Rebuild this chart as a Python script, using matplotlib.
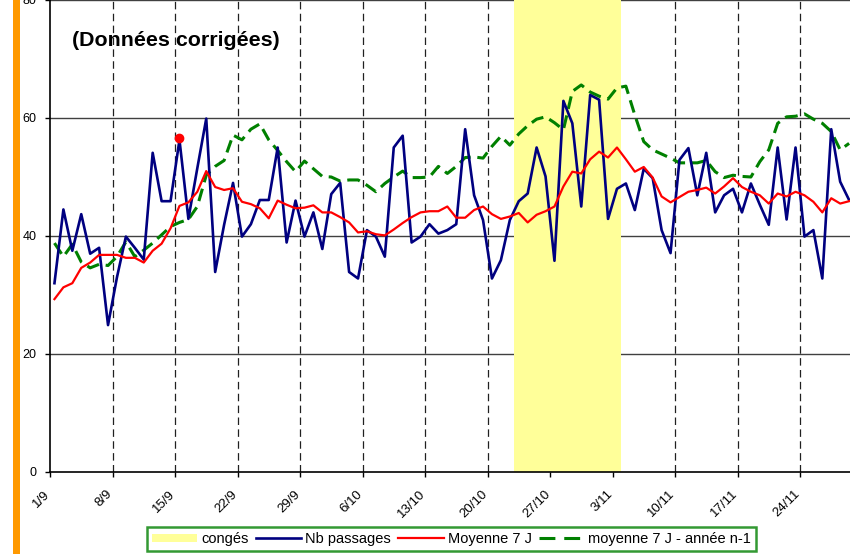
import matplotlib
matplotlib.use('Agg')
import matplotlib.pyplot as plt
import matplotlib.transforms as mtransforms
from matplotlib.patches import Patch, Rectangle
from matplotlib.lines import Line2D

plt.rcParams['font.family'] = ['Liberation Sans', 'DejaVu Sans']

# jours depuis le 1/9 (0 = 1/9)
semaines = [0, 7, 14, 21, 28, 35, 42, 49, 56, 63, 70, 77, 84]
semaines_lab = ['1/9', '8/9', '15/9', '22/9', '29/9', '6/10', '13/10', '20/10',
                '27/10', '3/11', '10/11', '17/11', '24/11']

nb_passages = [32.0, 44.5, 37.5, 43.7, 37.0, 38.0, 24.9, 33.0, 39.9, 38.0,
               36.0, 54.1, 45.9, 45.9, 56.3, 42.9, 51.5, 59.9, 33.9, 41.9,
               49.0, 39.9, 42.0, 46.1, 46.1, 55.0, 38.9, 46.0, 39.9, 44.0,
               37.8, 47.1, 49.0, 33.9, 32.8, 41.0, 39.9, 36.5, 55.0, 57.0,
               38.9, 39.9, 42.0, 40.4, 41.0, 42.0, 58.1, 46.9, 42.7, 32.8,
               35.9, 42.7, 45.9, 47.2, 55.0, 50.1, 35.8, 62.9, 59.1, 45.0,
               63.9, 63.1, 42.9, 48.0, 48.9, 44.4, 51.4, 49.8, 41.0, 37.1,
               52.9, 54.9, 46.9, 54.1, 44.0, 46.9, 48.0, 44.0, 48.9, 45.3,
               41.9, 55.0, 42.8, 55.0, 39.9, 41.0, 32.8, 58.1, 49.2, 46.1]

moy7 = [29.3, 31.3, 32.0, 34.6, 35.5, 36.8, 36.8, 36.8, 36.3, 36.3,
        35.5, 37.5, 38.7, 41.3, 45.1, 45.7, 47.5, 51.0, 48.3, 47.8,
        48.1, 45.8, 45.4, 44.7, 43.0, 46.0, 45.3, 44.7, 44.8, 45.2,
        44.0, 44.0, 43.2, 42.3, 40.6, 40.8, 40.3, 40.1, 41.1, 42.2,
        43.2, 44.0, 44.2, 44.2, 45.0, 43.1, 43.1, 44.4, 45.0, 43.7,
        42.9, 43.3, 43.9, 42.3, 43.6, 44.2, 45.0, 48.4, 50.9, 50.6,
        53.0, 54.3, 53.3, 55.0, 53.0, 50.9, 51.7, 49.9, 46.7, 45.7,
        46.6, 47.5, 47.8, 48.2, 47.2, 48.4, 49.8, 48.3, 47.5, 46.9,
        45.5, 47.2, 46.7, 47.5, 46.9, 45.8, 44.0, 46.4, 45.5, 45.9]

moy7_n1 = [38.8, 36.5, 38.6, 35.6, 34.6, 35.2, 35.0, 36.5, 39.0, 36.5,
           37.6, 38.8, 40.2, 41.6, 42.3, 42.8, 45.0, 50.3, 51.8, 52.8,
           57.1, 56.3, 58.1, 59.0, 56.3, 54.5, 52.6, 50.9, 52.7, 51.4,
           50.1, 50.0, 49.3, 49.5, 49.5, 48.6, 47.5, 48.9, 50.0, 51.0,
           49.9, 49.9, 50.0, 51.8, 50.6, 51.8, 53.3, 53.4, 53.2, 55.2,
           56.9, 55.4, 57.3, 58.7, 59.8, 60.2, 59.2, 58.0, 64.5, 65.6,
           64.4, 63.7, 63.2, 65.1, 65.4, 60.5, 56.0, 54.6, 53.9, 53.2,
           52.4, 52.4, 52.4, 52.8, 50.9, 49.9, 50.3, 50.1, 50.0, 52.6,
           54.6, 59.1, 60.2, 60.3, 60.7, 59.8, 59.1, 57.7, 54.6, 55.7]

conges_jours = [52, 53, 54, 55, 56, 57, 58, 59, 60, 61, 62, 63]
conges_val = [80] * len(conges_jours)

point_max_jour = [14]
point_max_val = [56.6]

jours = list(range(len(nb_passages)))

fig = plt.figure(figsize=(8.5, 5.54), dpi=100)
ax = fig.add_axes([50/850., 82/554., 800/850., 472/554.])

# barre orange a gauche
fig.patches.append(Rectangle((13/850., 0), 7/850., 1, transform=fig.transFigure,
                             facecolor='#FF9900', edgecolor='none'))

for y in [20, 40, 60, 80]:
    ax.axhline(y, color='#404040', linewidth=1.0, zorder=1)
for s in semaines[1:]:
    ax.axvline(s - 0.5, color='#202020', linewidth=0.9, linestyle=(0, (6, 3.5)), zorder=1)

ax.bar(conges_jours, conges_val, width=1.0, color='#FFFF99', edgecolor='none', zorder=2)

ax.plot(jours, nb_passages, color='#000080', linewidth=1.9, zorder=4)
ax.plot(jours, moy7, color='#FF0000', linewidth=1.6, zorder=5)
ax.plot(jours, moy7_n1, color='#008000', linewidth=2.2, linestyle=(0, (4.2, 2.2)), zorder=3)
ax.plot(point_max_jour, point_max_val, 'o', color='#FF0000', markersize=6, zorder=6)

ax.set_xlim(-0.5, 89.1)
ax.set_ylim(0, 80)
ax.set_yticks([0, 20, 40, 60, 80])
ax.set_yticklabels(['0', '20', '40', '60', '80'], fontsize=9)
ax.set_xticks([s - 0.5 for s in semaines])
ax.set_xticklabels(semaines_lab, fontsize=9.5, rotation=45, ha='right', va='top',
                   rotation_mode='anchor')
ax.tick_params(axis='both', direction='out', length=3.6, width=1, colors='black')
ax.tick_params(axis='y', pad=6)
ax.tick_params(axis='x', pad=8)
decal = mtransforms.ScaledTranslation(-6/100., 0, fig.dpi_scale_trans)
for lab in ax.get_xticklabels():
    lab.set_transform(lab.get_transform() + decal)

ax.spines['top'].set_visible(False)
ax.spines['right'].set_visible(False)
ax.spines['left'].set_linewidth(1.2)
ax.spines['bottom'].set_linewidth(1.2)

ax.text(2.0, 73.2, '(Données corrigées)', fontsize=15.4, fontweight='bold',
        ha='left', va='center', zorder=7)

handles = [Patch(facecolor='#FFFF99', edgecolor='none'),
           Line2D([], [], color='#000080', linewidth=1.9),
           Line2D([], [], color='#FF0000', linewidth=1.6),
           Line2D([], [], color='#008000', linewidth=2.2, linestyle=(0, (5.2, 2.9)))]
labels = ['congés', 'Nb passages', 'Moyenne 7 J', 'moyenne 7 J - année n-1']
leg = fig.legend(handles, labels, ncol=4, loc='center',
                 bbox_to_anchor=(451.5/850., 15/554.), fontsize=10.5,
                 frameon=True, fancybox=False, handlelength=3.1, handleheight=0.5,
                 handletextpad=0.28, columnspacing=0.5, borderpad=0.35)
leg.get_frame().set_edgecolor('#008000')
leg.get_frame().set_linewidth(1.8)

fig.savefig('out.png', dpi=100)
